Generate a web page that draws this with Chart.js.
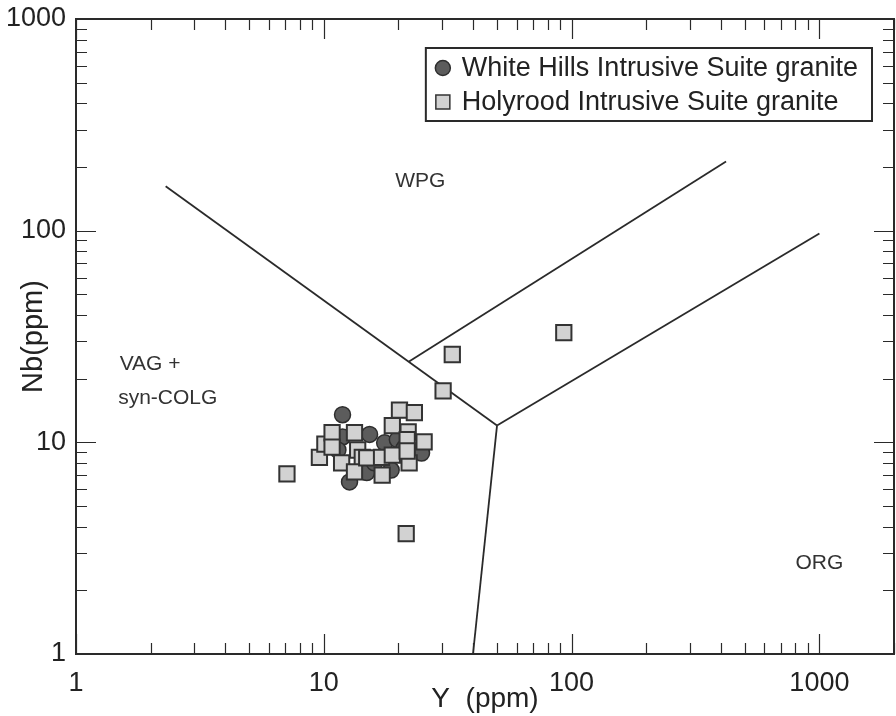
<!DOCTYPE html>
<html>
<head>
<meta charset="utf-8">
<script src="https://cdn.jsdelivr.net/npm/chart.js@4.4.1/dist/chart.umd.min.js"></script>
<style>
  html, body { margin: 0; padding: 0; background: #fff; overflow: hidden; }
  canvas { display: block; }
</style>
</head>
<body>
<canvas id="nbY" width="896" height="716"></canvas>
<script>
// White Hills Intrusive Suite granite (circles)
const whiteY  = [11.9, 11.9, 15.3, 17.6, 19.8, 24.8, 12.7, 14.9, 11.4, 16.0, 21.1, 18.7];
const whiteNb = [13.5, 10.6, 10.9, 9.95, 10.3, 8.9, 6.5, 7.2, 9.2, 8.0, 9.4, 7.4];

// Holyrood Intrusive Suite granite (squares)
const holyY  = [7.1, 9.6, 10.1, 10.8, 10.8, 11.8, 13.3, 13.7, 14.3, 13.3, 14.9, 17.1, 18.9, 17.2,
                18.9, 20.2, 23.2, 21.9, 21.7, 25.4, 22.1, 21.7, 30.3, 33, 93, 21.5];
const holyNb = [7.1, 8.5, 9.8, 11.1, 9.5, 8.0, 11.1, 9.2, 8.5, 7.25, 8.45, 8.5, 8.7, 7.0,
                12.0, 14.2, 13.8, 11.2, 10.3, 10.05, 8.0, 9.1, 17.5, 26, 33, 3.7];

// discrimination boundaries (Y, Nb pairs)
const lineWpgVag   = [[2.3, 162], [50, 12]];
const lineWpgOrg   = [[50, 12], [1000, 97]];
const lineVagOrg   = [[50, 12], [40, 1]];
const lineWpgUpper = [[22, 24], [420, 212]];

const regionNames = ['WPG', 'VAG +', 'syn-COLG', 'ORG'];
const regionY     = [24.5, 1.5, 1.48, 1000];
const regionNb    = [172, 23.5, 16.2, 2.69];
const regionAlign = ['center', 'left', 'left', 'center'];

const xTicks = [1, 10, 100, 1000];
const yTicks = [1, 10, 100, 1000];

const FONT = '"Liberation Sans", Arial, sans-serif';
const INK = '#2a2a2a';

function pts(xs, ys) { return xs.map((x, i) => ({ x: x, y: ys[i] })); }
function seg(arr) { return arr.map(p => ({ x: p[0], y: p[1] })); }

function boundary(arr) {
    return {
        label: '', data: seg(arr), showLine: true, pointRadius: 0,
        borderColor: INK, borderWidth: 1.8, order: 5
    };
}

// frame + inward ticks on all four sides
const frameTicks = {
    id: 'frameTicks',
    afterDatasetsDraw(chart) {
        const { ctx, chartArea: a, scales } = chart;
        ctx.save();
        ctx.strokeStyle = INK;
        ctx.lineWidth = 1.2;
        for (let e = 0; e <= 3; e++) {
            for (let m = 1; m <= 9; m++) {
                const v = m * Math.pow(10, e);
                const len = m === 1 ? 20 : 11;
                if (v >= scales.x.min && v <= scales.x.max) {
                    const px = Math.round(scales.x.getPixelForValue(v)) + 0.5;
                    ctx.beginPath();
                    ctx.moveTo(px, a.bottom); ctx.lineTo(px, a.bottom - len);
                    ctx.moveTo(px, a.top); ctx.lineTo(px, a.top + len);
                    ctx.stroke();
                }
                if (v >= scales.y.min && v <= scales.y.max) {
                    const py = Math.round(scales.y.getPixelForValue(v)) + 0.5;
                    ctx.beginPath();
                    ctx.moveTo(a.left, py); ctx.lineTo(a.left + len, py);
                    ctx.moveTo(a.right, py); ctx.lineTo(a.right - len, py);
                    ctx.stroke();
                }
            }
        }
        ctx.lineWidth = 2;
        ctx.strokeRect(a.left, a.top, a.right - a.left, a.bottom - a.top);

        // field names
        ctx.fillStyle = '#333';
        ctx.font = '21px ' + FONT;
        ctx.textBaseline = 'middle';
        regionNames.forEach((t, i) => {
            ctx.textAlign = regionAlign[i];
            ctx.fillText(t, scales.x.getPixelForValue(regionY[i]), scales.y.getPixelForValue(regionNb[i]));
        });
        ctx.restore();
    }
};

// boxed legend in the upper right corner
const boxLegend = {
    id: 'boxLegend',
    afterDraw(chart) {
        const { ctx, chartArea: a } = chart;
        const items = chart.data.datasets.filter(d => d.label);
        ctx.save();
        ctx.font = '27px ' + FONT;
        const w = Math.max(...items.map(d => ctx.measureText(d.label).width));
        const right = a.right - 22, top = a.top + 29;
        const left = right - w - 50, bottom = top + 73;
        ctx.fillStyle = '#fff';
        ctx.fillRect(left, top, right - left, bottom - top);
        ctx.strokeStyle = INK; ctx.lineWidth = 2;
        ctx.strokeRect(left, top, right - left, bottom - top);
        items.forEach((d, i) => {
            const cy = top + 20 + i * 34;
            const cx = left + 17;
            ctx.fillStyle = d.backgroundColor;
            ctx.strokeStyle = d.borderColor;
            ctx.lineWidth = 1.5;
            ctx.beginPath();
            if (d.pointStyle === 'circle') ctx.arc(cx, cy, 7.5, 0, Math.PI * 2);
            else ctx.rect(cx - 7, cy - 7, 14, 14);
            ctx.fill(); ctx.stroke();
            ctx.fillStyle = '#222';
            ctx.textBaseline = 'middle';
            ctx.textAlign = 'left';
            ctx.fillText(d.label, left + 36, cy + 1);
        });
        ctx.restore();
    }
};

new Chart(document.getElementById('nbY'), {
    type: 'scatter',
    data: {
        datasets: [
            {
                label: 'White Hills Intrusive Suite granite',
                data: pts(whiteY, whiteNb), pointStyle: 'circle', pointRadius: 8,
                backgroundColor: '#5c5c5c', borderColor: '#2e2e2e', borderWidth: 1.5, order: 2
            },
            {
                label: 'Holyrood Intrusive Suite granite',
                data: pts(holyY, holyNb), pointStyle: 'rect', pointRadius: 10.8,
                backgroundColor: '#d2d2d2', borderColor: '#333', borderWidth: 2, order: 1
            },
            boundary(lineWpgVag),
            boundary(lineWpgOrg),
            boundary(lineVagOrg),
            boundary(lineWpgUpper)
        ]
    },
    options: {
        responsive: false,
        animation: false,
        layout: { autoPadding: false, padding: { top: 19, right: 2, bottom: 0, left: 0 } },
        plugins: { legend: { display: false }, tooltip: { enabled: false } },
        scales: {
            x: {
                type: 'logarithmic', min: 1, max: 2000,
                afterBuildTicks: s => { s.ticks = xTicks.map(v => ({ value: v })); },
                afterFit: s => { s.height = 62; s.paddingLeft = 0; s.paddingRight = 0; },
                grid: { display: false, drawTicks: false },
                border: { display: false },
                ticks: { color: '#222', font: { family: FONT, size: 27 }, padding: 13, maxRotation: 0,
                         callback: v => String(v) },
                title: { display: true, text: 'Y  (ppm)', color: '#222',
                         font: { family: FONT, size: 28 }, padding: { top: 0, bottom: 0 } }
            },
            y: {
                type: 'logarithmic', min: 1, max: 1000,
                afterBuildTicks: s => { s.ticks = yTicks.map(v => ({ value: v })); },
                afterFit: s => { s.width = 76; s.paddingTop = 0; s.paddingBottom = 0; },
                grid: { display: false, drawTicks: false },
                border: { display: false },
                ticks: { color: '#222', font: { family: FONT, size: 27 }, padding: 10,
                         callback: v => String(v) },
                title: { display: true, text: 'Nb(ppm)', color: '#222',
                         font: { family: FONT, size: 29 }, padding: { top: 17, bottom: 0 } }
            }
        }
    },
    plugins: [frameTicks, boxLegend]
});
</script>
</body>
</html>
